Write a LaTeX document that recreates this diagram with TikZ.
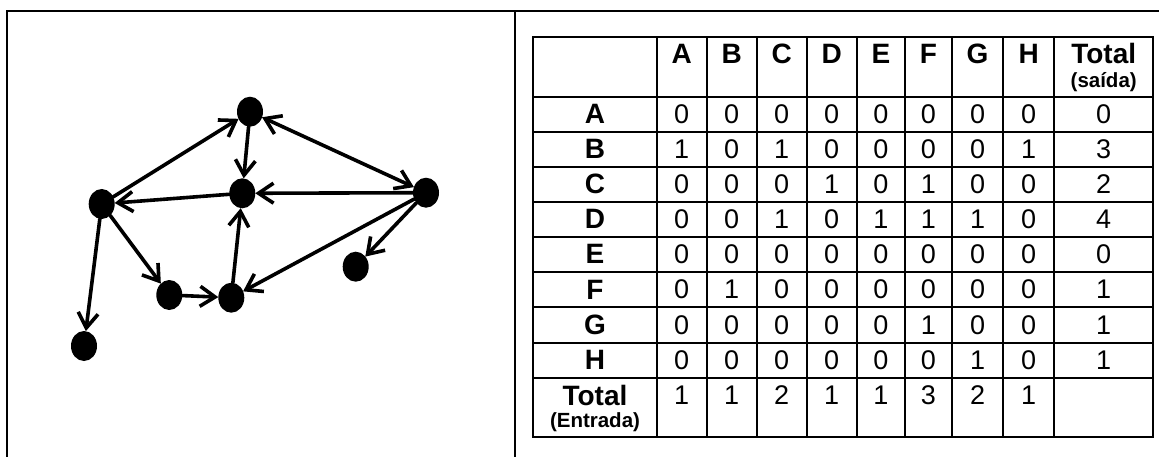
\documentclass[tikz,border=0pt]{standalone}
\usepackage{fontspec}
\setmainfont{Liberation Sans}
\usetikzlibrary{arrows.meta,shapes.geometric}
\newcommand\colcenters{{681.7,731.7,781.7,831.7,880.9,928.4,977.5,1028.7,1103.7}}
\newcommand\rowcenters{{114.2,149.2,184.2,219.2,254.2,289.5,325.0,360.2}}
\newcommand\tabrow[3]{%
  \pgfmathsetmacro\yy{\rowcenters[#2]}%
  \node[lbl] (row#1) at (595,\yy) {#1};%
  \foreach \v [count=\ci from 0] in {#3} {%
    \pgfmathsetmacro\xx{\colcenters[\ci]}%
    \node[num] (c#1\ci) at (\xx,\yy) {\v};%
  }%
}
\begin{document}
\begin{tikzpicture}[x=1pt,y=-1pt,
  vertex/.style={ellipse,fill=black,draw=none,minimum width=26pt,minimum height=30pt,inner sep=0pt,outer sep=0pt},
  arc/.style={line width=3.6pt,line cap=round,line join=round,-{Straight Barb[length=15pt,width=20pt]}},
  biarc/.style={line width=3.6pt,line cap=round,line join=round,{Straight Barb[length=15pt,width=20pt]}-{Straight Barb[length=15pt,width=20pt]}},
  frame/.style={line width=2pt},
  tab/.style={line width=2pt},
  num/.style={font=\fontsize{27}{29}\selectfont,inner sep=0pt},
  lbl/.style={font=\fontsize{28}{30}\selectfont\bfseries,inner sep=0pt},
  hdr/.style={font=\fontsize{28}{30}\selectfont\bfseries,inner sep=0pt,anchor=base},
  sub/.style={font=\fontsize{20.5}{22}\selectfont\bfseries,inner sep=0pt,anchor=base}]
\useasboundingbox (0,0) rectangle (1159,457);
% frame
\draw[frame] (7,457) -- (7,11) -- (1159,11);
\draw[frame] (515,11) -- (515,457);
% graph
\node[vertex] (B) at (101.7,204) {};
\node[vertex] (C) at (250,111.7) {};
\node[vertex] (F) at (242.3,193.3) {};
\node[vertex] (D) at (426,192.7) {};
\node[vertex] (E) at (355.7,266.7) {};
\node[vertex] (H) at (169.3,295) {};
\node[vertex] (G) at (231.3,297.7) {};
\node[vertex] (A) at (84,346) {};
\draw[arc] (B) -- (C);
\draw[biarc] (C) -- (D);
\draw[arc] (C) -- (F);
\draw[arc] (F) -- (B);
\draw[arc] (D) -- (F);
\draw[arc] (D) -- (G);
\draw[arc] (D) -- (E);
\draw[arc] (B) -- (A);
\draw[arc] (B) -- (H);
\draw[arc] (H) -- (G);
\draw[arc] (G) -- (F);
% table grid
\draw[tab] (533.3,36.7) rectangle (1153.3,436.7);
\foreach \x in {656.7,706.7,756.7,806.7,856.7,905,951.7,1003.3,1054}
  \draw[tab] (\x,36.7) -- (\x,436.7);
\foreach \y in {96.7,131.7,166.7,201.7,236.7,271.7,307.3,342.7,377.7}
  \draw[tab] (533.3,\y) -- (1153.3,\y);
% header
\foreach \l [count=\ci from 0] in {A,B,C,D,E,F,G,H} {
  \pgfmathsetmacro\xx{\colcenters[\ci]}
  \node[hdr] (h\l) at (\xx,63.5) {\l};
}
\node[hdr] (hTot) at (1103.7,63.5) {Total};
\node[sub] (hTotS) at (1103.7,88) {(saída)};
% rows
\tabrow{A}{0}{0,0,0,0,0,0,0,0,0}
\tabrow{B}{1}{1,0,1,0,0,0,0,1,3}
\tabrow{C}{2}{0,0,0,1,0,1,0,0,2}
\tabrow{D}{3}{0,0,1,0,1,1,1,0,4}
\tabrow{E}{4}{0,0,0,0,0,0,0,0,0}
\tabrow{F}{5}{0,1,0,0,0,0,0,0,1}
\tabrow{G}{6}{0,0,0,0,0,1,0,0,1}
\tabrow{H}{7}{0,0,0,0,0,0,1,0,1}
% total row
\node[hdr] (rTot) at (595,405) {Total};
\node[sub] (rTotS) at (595,427) {(Entrada)};
\foreach \v [count=\ci from 0] in {1,1,2,1,1,3,2,1} {
  \pgfmathsetmacro\xx{\colcenters[\ci]}
  \node[num,anchor=base] (t\ci) at (\xx,404) {\v};
}
\end{tikzpicture}
\end{document}
